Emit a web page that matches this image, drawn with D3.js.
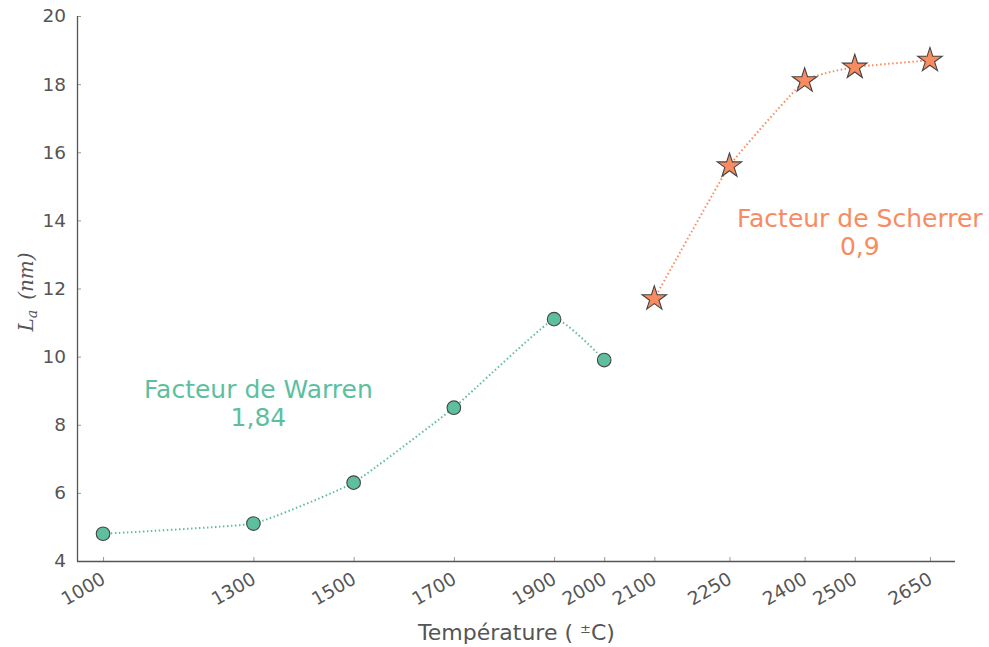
<!DOCTYPE html>
<html>
<head>
<meta charset="utf-8">
<script src="https://cdn.jsdelivr.net/npm/d3@7"></script>
<style>
  body { margin: 0; background: #fff; }
  text { font-family: "DejaVu Sans", sans-serif; }
</style>
</head>
<body>
<div id="chart"></div>
<script>
// DATA //
const xTicks = [1000, 1300, 1500, 1700, 1900, 2000, 2100, 2250, 2400, 2500, 2650]
const yTicks = [4, 6, 8, 10, 12, 14, 16, 18, 20]

const warrenTemp = [1000, 1300, 1500, 1700, 1900, 2000]
const warrenLa = [4.8, 5.1, 6.3, 8.5, 11.1, 9.9]

const scherrerTemp = [2100, 2250, 2400, 2500, 2650]
const scherrerLa = [11.7, 15.6, 18.1, 18.5, 18.7]

const green = "#5dbf9e"
const orange = "#f98b60"
const axisColor = "#555"

// DIMENSIONS //
let dimensions = {
    width: 989,
    height: 647,
    margin: { top: 16, right: 34, bottom: 86, left: 77 },
}
dimensions.boundedWidth = dimensions.width - dimensions.margin.left - dimensions.margin.right
dimensions.boundedHeight = dimensions.height - dimensions.margin.top - dimensions.margin.bottom

const xScale = d3.scaleLinear()
    .domain([948, 2700])
    .range([0, dimensions.boundedWidth])
const yScale = d3.scaleLinear()
    .domain([4, 20])
    .range([dimensions.boundedHeight, 0])

const svg = d3.select("#chart").append("svg")
    .attr("width", dimensions.width)
    .attr("height", dimensions.height)

const bounds = svg.append("g")
    .attr("transform", `translate(${dimensions.margin.left},${dimensions.margin.top})`)

// AXES //
const xAxis = bounds.append("g")
    .attr("transform", `translate(0,${dimensions.boundedHeight})`)
    .call(d3.axisBottom(xScale).tickValues(xTicks).tickFormat(d3.format("d"))
        .tickSize(-4).tickSizeOuter(0).tickPadding(8))
xAxis.select(".domain").attr("stroke", axisColor).attr("stroke-width", 1.3)
    .attr("d", `M0,0.5H${dimensions.boundedWidth}`)
xAxis.selectAll(".tick line").attr("stroke", axisColor).attr("stroke-width", 0.6)
xAxis.selectAll(".tick text")
    .attr("fill", axisColor)
    .style("font-size", "18.5px")
    .attr("text-anchor", "end")
    .attr("dy", "0.35em")
    .attr("transform", "translate(-4,9) rotate(-30)")

const yAxis = bounds.append("g")
    .call(d3.axisLeft(yScale).tickValues(yTicks).tickSize(-4).tickSizeOuter(0).tickPadding(11))
yAxis.select(".domain").attr("stroke", axisColor).attr("stroke-width", 1.3)
    .attr("d", `M0.5,0V${dimensions.boundedHeight}`)
yAxis.selectAll(".tick line").attr("stroke", axisColor).attr("stroke-width", 0.6)
yAxis.selectAll(".tick text")
    .attr("fill", axisColor)
    .style("font-size", "18.5px")

// axis labels
const xLabel = bounds.append("text")
    .attr("x", xScale(1825))
    .attr("y", dimensions.boundedHeight + 79)
    .attr("text-anchor", "middle")
    .attr("fill", axisColor)
    .style("font-size", "22px")
xLabel.append("tspan").text("Température ( ")
xLabel.append("tspan").style("font-size", "13px").attr("dy", "-7").text("±")
xLabel.append("tspan").attr("dy", "7").text("C)")

const yLabel = bounds.append("text")
    .attr("transform", `translate(-44,${yScale(11.9)}) rotate(-90)`)
    .attr("text-anchor", "middle")
    .attr("fill", axisColor)
    .style("font-family", "'DejaVu Serif', serif")
    .style("font-style", "italic")
    .style("font-size", "20px")
yLabel.append("tspan").text("L")
yLabel.append("tspan").style("font-size", "14px").attr("dy", "4").text("a")
yLabel.append("tspan").attr("dy", "-4").attr("dx", "10").text("(nm)")

// LINES //
const lineGen = d3.line()
    .x(d => xScale(d[0]))
    .y(d => yScale(d[1]))
    .curve(d3.curveCardinal.tension(0.65))

const warrenData = d3.zip(warrenTemp, warrenLa)
const scherrerData = d3.zip(scherrerTemp, scherrerLa)

bounds.append("path")
    .attr("d", lineGen(warrenData))
    .attr("fill", "none")
    .attr("stroke", green)
    .attr("stroke-width", 2)
    .attr("stroke-dasharray", "1.5,2.5")

bounds.append("path")
    .attr("d", lineGen(scherrerData))
    .attr("fill", "none")
    .attr("stroke", orange)
    .attr("stroke-width", 2)
    .attr("stroke-dasharray", "1.5,2.5")

// MARKERS //
bounds.selectAll(".warren")
    .data(warrenData)
    .join("circle")
    .attr("class", "warren")
    .attr("cx", d => xScale(d[0]))
    .attr("cy", d => yScale(d[1]))
    .attr("r", 6.8)
    .attr("fill", green)
    .attr("stroke", "#444")
    .attr("stroke-width", 1.1)

const star = d3.symbol().type(d3.symbolStar).size(185)
bounds.selectAll(".scherrer")
    .data(scherrerData)
    .join("path")
    .attr("class", "scherrer")
    .attr("d", star)
    .attr("transform", d => `translate(${xScale(d[0])},${yScale(d[1])})`)
    .attr("fill", orange)
    .attr("stroke", "#444")
    .attr("stroke-width", 1.1)

// ANNOTATIONS //
const warrenNote = bounds.append("text")
    .attr("text-anchor", "middle")
    .attr("fill", green)
    .style("font-size", "25px")
warrenNote.append("tspan").attr("x", xScale(1310)).attr("y", yScale(8.8)).text("Facteur de Warren")
warrenNote.append("tspan").attr("x", xScale(1310)).attr("y", yScale(8.8) + 28).text("1,84")

const scherrerNote = bounds.append("text")
    .attr("text-anchor", "middle")
    .attr("fill", orange)
    .style("font-size", "25px")
scherrerNote.append("tspan").attr("x", xScale(2510)).attr("y", yScale(13.8)).text("Facteur de Scherrer")
scherrerNote.append("tspan").attr("x", xScale(2510)).attr("y", yScale(13.8) + 28).text("0,9")
</script>
</body>
</html>
